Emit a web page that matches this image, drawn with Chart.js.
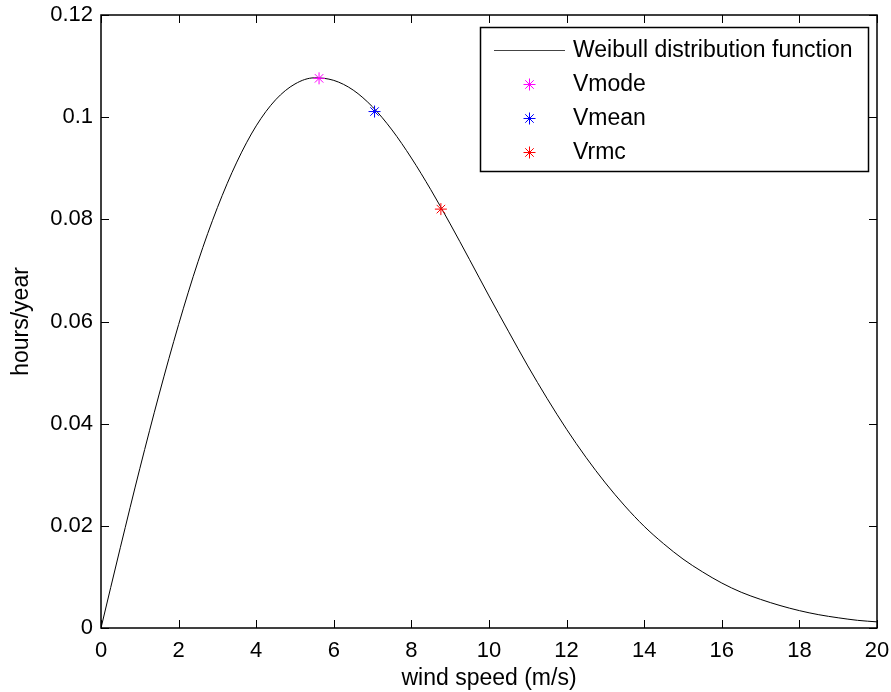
<!DOCTYPE html>
<html>
<head>
<meta charset="utf-8">
<script src="https://cdn.jsdelivr.net/npm/chart.js@4/dist/chart.umd.min.js"></script>
<style>
html,body{margin:0;padding:0;background:#fff;}
#wrap{width:891px;height:692px;}
</style>
</head>
<body>
<div id="wrap"><canvas id="c" width="891" height="692"></canvas></div>
<script>
const windSpeed = [0,0.5,1,1.5,2,2.5,3,3.5,4,4.5,5,5.5,6,6.5,7,7.5,8,8.5,9,9.5,10,10.5,11,11.5,12,12.5,13,13.5,14,14.5,15,15.5,16,16.5,17,17.5,18,18.5,19,19.5,20];
const hoursPerYear = [0,0.0158,0.0312,0.0458,0.0594,0.0717,0.0823,0.0912,0.0983,0.1034,0.1065,0.1077,0.1072,0.1053,0.1020,0.0975,0.0920,0.0858,0.0791,0.0721,0.0650,0.0581,0.0513,0.0449,0.0389,0.0334,0.0284,0.0239,0.0199,0.0165,0.0135,0.0110,0.0088,0.0070,0.0056,0.0044,0.0034,0.0026,0.0020,0.0015,0.0012];
const markerNames = ['Vmode','Vmean','Vrmc'];
const markerX = [5.62,7.05,8.76];
const markerY = [0.1076,0.1011,0.0820];
const markerColors = ['#ff00ff','#0000ff','#ff0000'];
const xTicks = [0,2,4,6,8,10,12,14,16,18,20];
const yTicks = [0,0.02,0.04,0.06,0.08,0.1,0.12];

const FONT = 'Liberation Sans, Arial, sans-serif';

const datasets = [{
  label: 'Weibull distribution function',
  data: windSpeed.map((x,i)=>({x:x,y:hoursPerYear[i]})),
  showLine: true,
  borderColor: '#000',
  borderWidth: 1,
  pointRadius: 0,
  cubicInterpolationMode: 'monotone',
  order: 2
}];
markerNames.forEach((n,i)=>{
  datasets.push({
    label: n,
    data: [{x:markerX[i], y:markerY[i]}],
    showLine: false,
    pointStyle: 'star',
    pointRadius: 6,
    borderColor: markerColors[i],
    backgroundColor: markerColors[i],
    borderWidth: 1,
    order: 1
  });
});

function zeroPad(s){ s.paddingLeft = 0; s.paddingRight = 0; s.paddingTop = 0; s.paddingBottom = 0; }

const framePlugin = {
  id: 'frame',
  afterDatasetsDraw(chart) {
    const ctx = chart.ctx, a = chart.chartArea;
    const xs = chart.scales.x, ys = chart.scales.y;
    ctx.save();
    ctx.strokeStyle = '#000';
    ctx.lineWidth = 1;
    ctx.beginPath();
    const L = 8;
    xTicks.forEach(v=>{
      const px = Math.round(xs.getPixelForValue(v))+0.5;
      ctx.moveTo(px, a.bottom); ctx.lineTo(px, a.bottom-L);
      ctx.moveTo(px, a.top); ctx.lineTo(px, a.top+L);
    });
    yTicks.forEach(v=>{
      const py = Math.round(ys.getPixelForValue(v))+0.5;
      ctx.moveTo(a.left, py); ctx.lineTo(a.left+L, py);
      ctx.moveTo(a.right, py); ctx.lineTo(a.right-L, py);
    });
    ctx.stroke();
    ctx.lineWidth = 1.5;
    ctx.strokeRect(a.left, a.top, a.right-a.left, a.bottom-a.top);

    // legend box
    const bx = 480, by = 27, bw = 388, bh = 144;
    ctx.fillStyle = '#fff';
    ctx.fillRect(bx, by, bw, bh);
    ctx.lineWidth = 1.5;
    ctx.strokeStyle = '#000';
    ctx.strokeRect(bx+0.5, by+0.5, bw, bh);
    const rows = [50, 84, 118, 152];
    ctx.font = '23px ' + FONT;
    ctx.textBaseline = 'middle';
    ctx.textAlign = 'left';
    chart.data.datasets.forEach((ds,i)=>{
      const y = rows[i];
      if (i === 0) {
        ctx.strokeStyle = '#444';
        ctx.lineWidth = 1;
        ctx.beginPath();
        ctx.moveTo(494, y+0.5); ctx.lineTo(565, y+0.5);
        ctx.stroke();
      } else {
        ctx.strokeStyle = ds.borderColor;
        ctx.lineWidth = 1;
        ctx.beginPath();
        const r = 6, cx = 529.5, cy = y + 0.5;
        ctx.moveTo(cx-r, cy); ctx.lineTo(cx+r, cy);
        ctx.moveTo(cx, cy-r); ctx.lineTo(cx, cy+r);
        const d = r*0.7071;
        ctx.moveTo(cx-d, cy-d); ctx.lineTo(cx+d, cy+d);
        ctx.moveTo(cx-d, cy+d); ctx.lineTo(cx+d, cy-d);
        ctx.stroke();
      }
      ctx.fillStyle = '#000';
      ctx.fillText(ds.label, 573, y + 1);
    });
    ctx.restore();
  }
};

new Chart(document.getElementById('c'), {
  type: 'scatter',
  data: { datasets },
  options: {
    responsive: false,
    animation: false,
    layout: { padding: { left: 0, right: 14, top: 15, bottom: 0 } },
    plugins: { legend: { display: false }, tooltip: { enabled: false } },
    scales: {
      x: {
        type: 'linear', min: 0, max: 20,
        afterBuildTicks(s){ s.ticks = xTicks.map(v=>({value:v})); },
        afterFit(s){ s.height = 64; zeroPad(s); },
        grid: { display: false, drawTicks: false },
        border: { display: false },
        ticks: { color: '#000', padding: 10, font: { family: FONT, size: 22 }, maxRotation: 0, autoSkip: false },
        title: { display: true, text: 'wind speed (m/s)', color: '#000', font: { family: FONT, size: 23 }, padding: { top: 0, bottom: 0 } }
      },
      y: {
        type: 'linear', min: 0, max: 0.12,
        afterBuildTicks(s){ s.ticks = yTicks.map(v=>({value:v})); },
        afterFit(s){ s.width = 101; zeroPad(s); },
        grid: { display: false, drawTicks: false },
        border: { display: false },
        ticks: { color: '#000', padding: 8, font: { family: FONT, size: 22 }, autoSkip: false,
          callback: (v)=> String(parseFloat(v.toFixed(2))) },
        title: { display: true, text: 'hours/year', color: '#000', font: { family: FONT, size: 23 }, padding: { top: 8, bottom: 0 } }
      }
    }
  },
  plugins: [framePlugin]
});
</script>
</body>
</html>
